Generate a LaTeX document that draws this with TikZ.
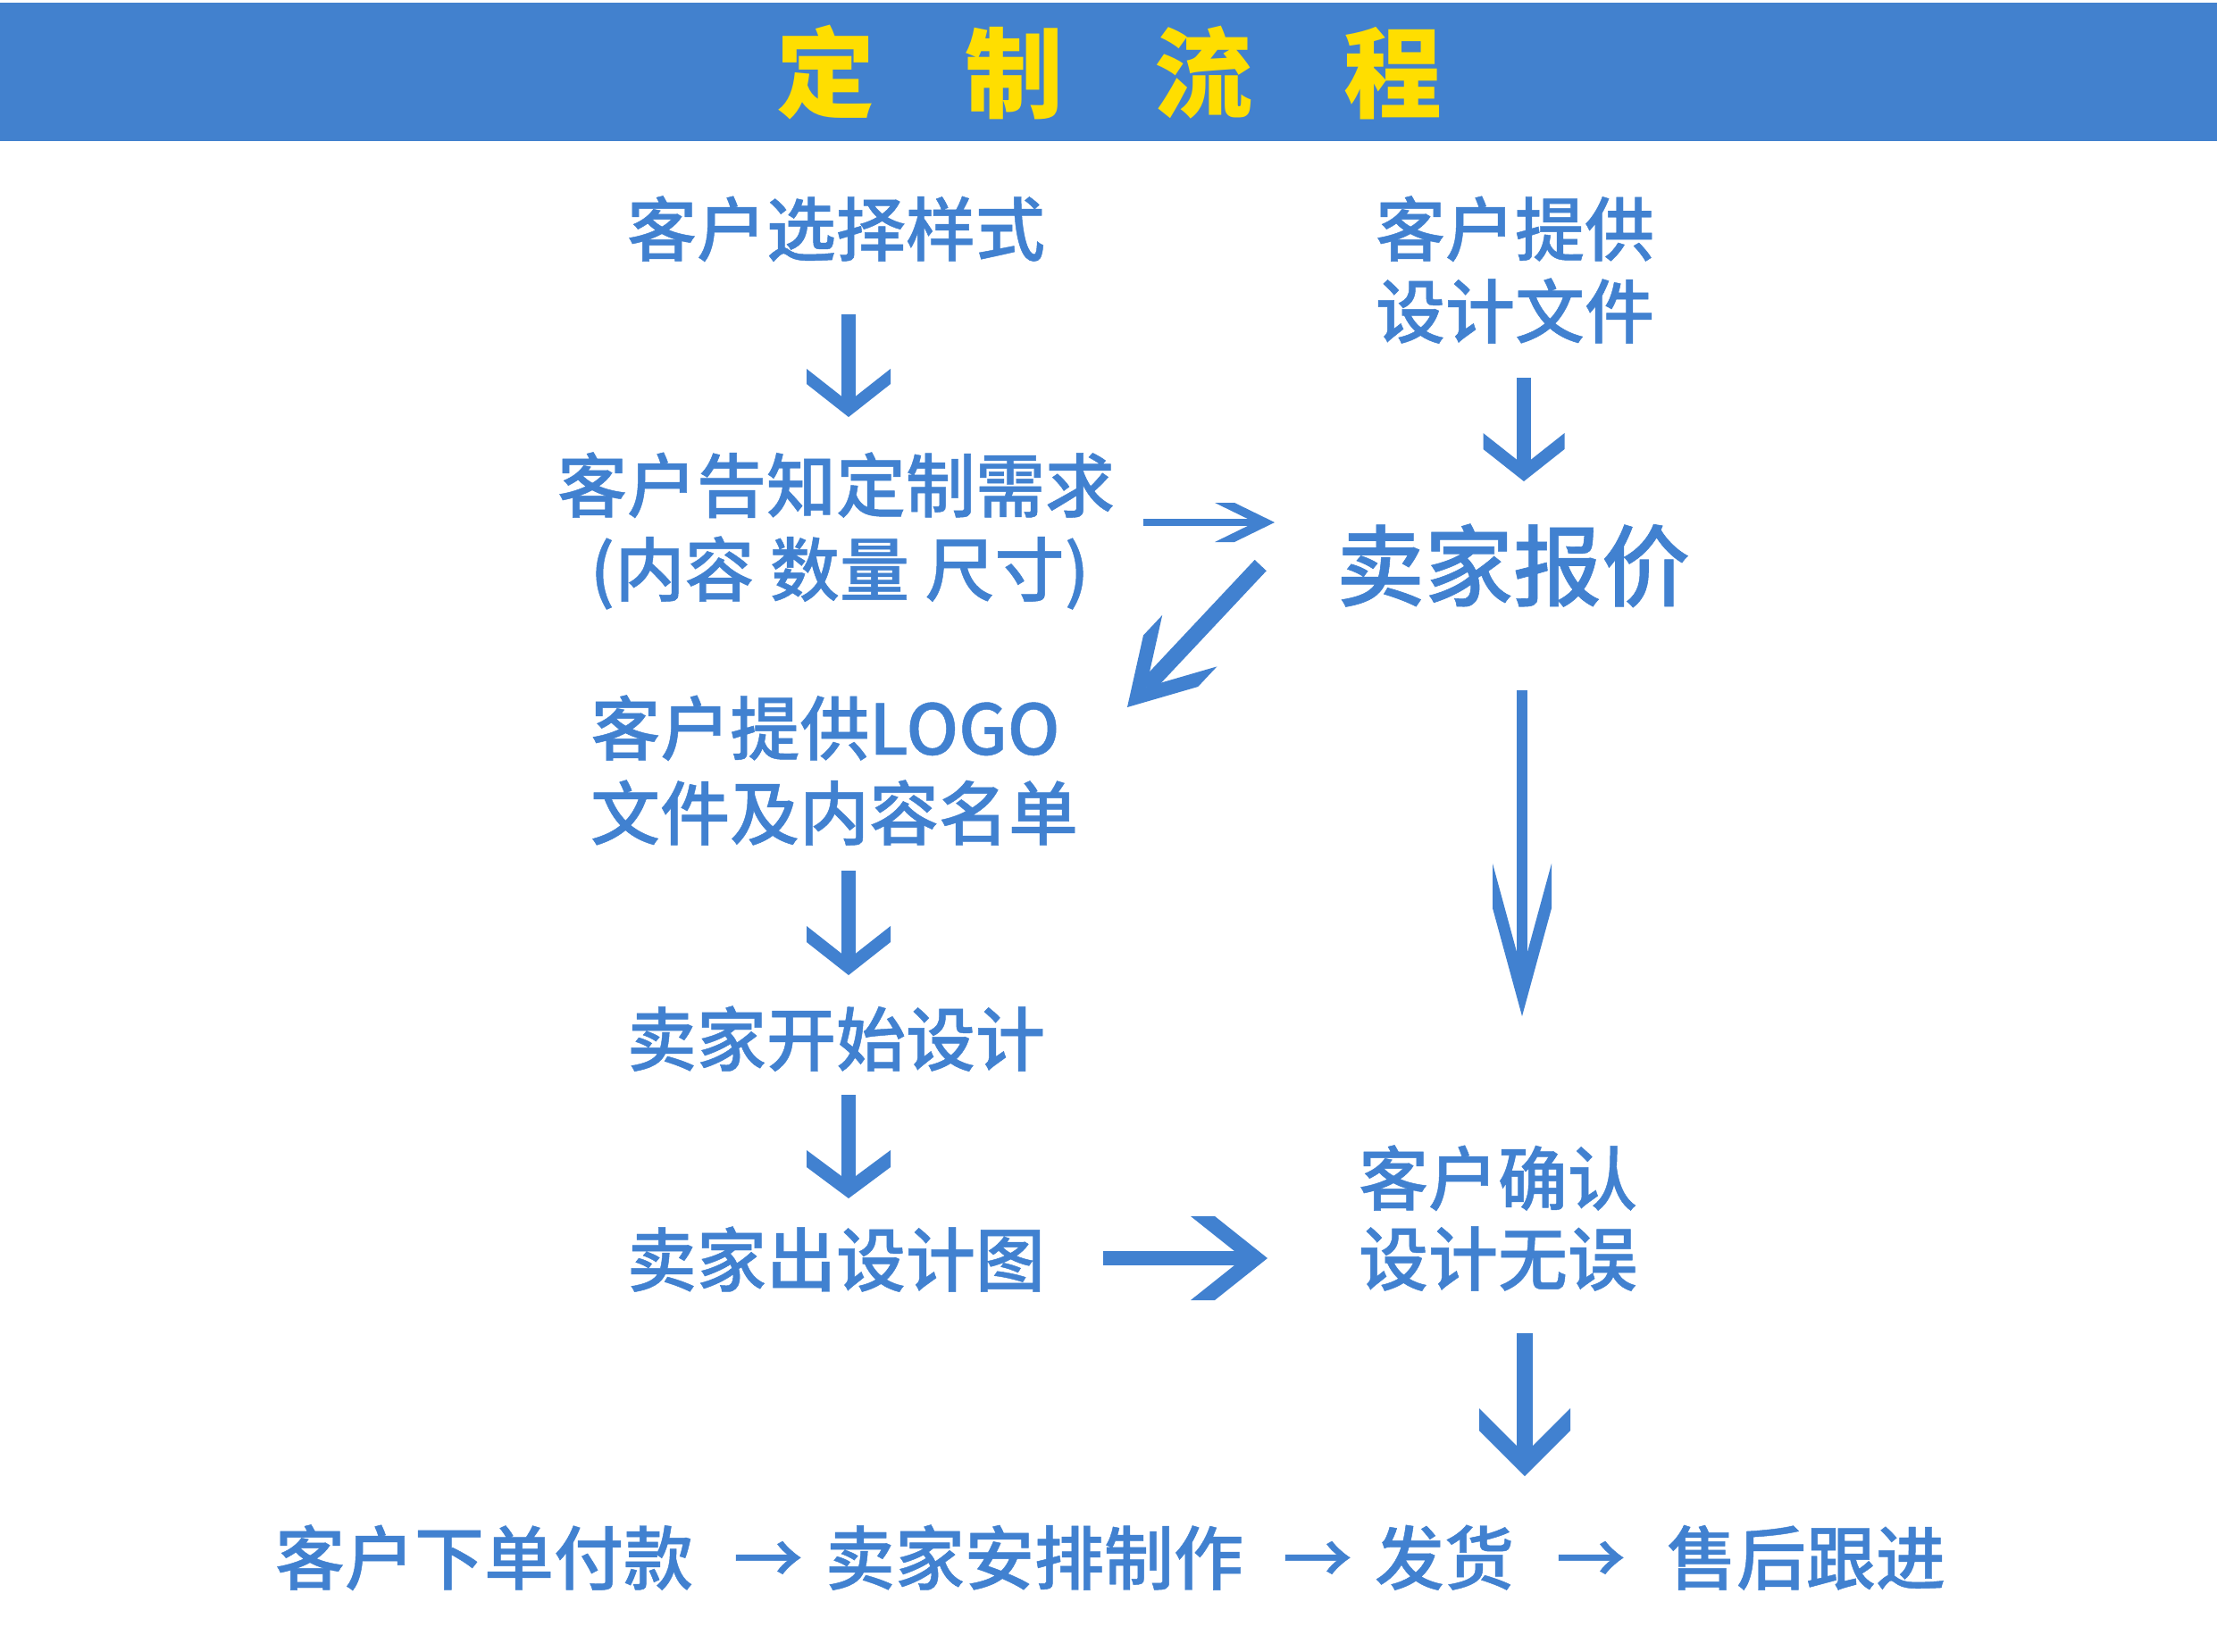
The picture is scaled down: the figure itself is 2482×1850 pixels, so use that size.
\documentclass[tikz,border=0pt]{standalone}
\usepackage{fontspec}
\newfontfamily\cjk{Noto Sans CJK SC}
\newfontfamily\cjkmed{Noto Sans CJK SC Medium}[RawFeature={embolden=0.6}]
\definecolor{hdrblue}{HTML}{4281CE}
\definecolor{txtblue}{HTML}{4181D0}
\definecolor{ttlyellow}{HTML}{FFDE00}
\newcommand\fatarrow[7]{% #1 tip, #2 rotation, #3 total length, #4 shaft width, #5 half head width, #6 head length, #7 cut
  \begin{scope}[shift={(#1)}, rotate=#2]
    \fill[txtblue] ({-#4/2},{-#3}) rectangle ({#4/2},{-#7});
    \fill[txtblue] ({-#5},{-#6}) -- (0,{-#7}) -- ({#5},{-#6}) -- ({#5},{-#6+#7})
      -- (0,0) -- ({-#5},{-#6+#7}) -- cycle;
  \end{scope}}
\begin{document}
\begin{tikzpicture}[x=1pt,y=-1pt,
  lbl/.style={anchor=base, inner sep=0pt, text=txtblue, font=\cjkmed\fontsize{78}{92}\selectfont},
  lblhuge/.style={lbl, font=\cjkmed\fontsize{99}{110}\selectfont}]
\useasboundingbox (0,0) rectangle (2482,1850);
\fill[white] (0,0) rectangle (2482,1850);
\fill[hdrblue] (0,3) rectangle (2482,158);
\node[anchor=base, inner sep=0pt, text=ttlyellow, font=\cjk\bfseries\fontsize{110}{120}\selectfont] (title) at (1242,123)
  {定\hspace{102pt}制\hspace{102pt}流\hspace{102pt}程};

% texts
\node[lbl] (t1) at (936,286) {客户选择样式};
\node[lbl] (t2a) at (1696,286) {客户提供};
\node[lbl] (t2b) at (1696,378) {设计文件};
\node[lbl] (t3a) at (936,573) {客户告知定制需求};
\node[lbl] (t3b) at (940,667) {(内容 数量 尺寸)};
\node[lblhuge] (t4) at (1694,671) {卖家报价};
\node[lbl] (t5a) at (924,845) {客户提供LOGO};
\node[lbl] (t5b) at (934,940) {文件及内容名单};
\node[lbl] (t6) at (936,1193) {卖家开始设计};
\node[lbl] (t7) at (936,1440) {卖家出设计图};
\node[lbl] (t8a) at (1677,1349) {客户确认};
\node[lbl] (t8b) at (1677,1439) {设计无误};
\node[lbl] (b1) at (542,1774) {客户下单付款};
\node[lbl] (ba1) at (860,1774) {→};
\node[lbl] (b2) at (1158,1774) {卖家安排制作};
\node[lbl] (ba2) at (1475,1774) {→};
\node[lbl] (b3) at (1617,1774) {发货};
\node[lbl] (ba3) at (1781,1774) {→};
\node[lbl] (b4) at (2022,1774) {售后跟进};

% arrow tips
\coordinate (a1) at (950,467);
\coordinate (a2) at (1706,539);
\coordinate (a3) at (1427,585);
\coordinate (a4) at (1262,792);
\coordinate (a5) at (1704,1138);
\coordinate (a6) at (950,1092);
\coordinate (a7) at (950,1342);
\coordinate (a8) at (1419,1409);
\coordinate (a9) at (1707,1653);

\fatarrow{a1}{0}{115}{16}{47}{54}{17}
\fatarrow{a2}{0}{116}{16}{45.5}{54}{18}
\fatarrow{a3}{90}{147}{8}{22}{67}{22}
\fatarrow{a4}{-43.2}{218}{18}{42}{102}{31}
\fatarrow{a5}{0}{365}{12}{33}{171}{50}
\fatarrow{a6}{0}{117}{16}{47}{55}{18}
\fatarrow{a7}{0}{116}{16}{47}{54}{19}
\fatarrow{a8}{90}{184}{16}{47}{86}{27}
\fatarrow{a9}{0}{160}{18}{51}{76}{25}
\end{tikzpicture}
\end{document}
